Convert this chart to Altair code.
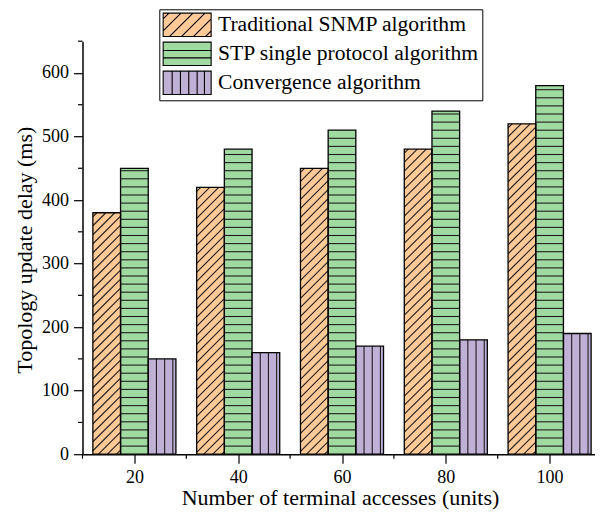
import altair as alt
import pandas as pd
import numpy as np

# ---- data ----
x_labels = [20, 40, 60, 80, 100]
series_names = ["Traditional SNMP algorithm", "STP single protocol algorithm", "Convergence algorithm"]
snmp_delay = [380, 420, 450, 480, 520]
stp_delay = [450, 480, 510, 540, 580]
conv_delay = [150, 160, 170, 180, 190]
fill_colors = ["#FFCA98", "#A0DAA0", "#BFB0D6"]
y_major = [0, 100, 200, 300, 400, 500, 600]
y_minor = [50, 150, 250, 350, 450, 550, 650]
x_minor = [10, 30, 50, 70, 90, 110]

# ---- layout / style ----
PX_X = 5.19            # pixels per x unit
W, H = 512, 413
X_DOM = [10, 10 + W / PX_X]
Y_DOM = [0, 650]
PX_Y = H / (Y_DOM[1] - Y_DOM[0])
GROUP = 16.0
BW = GROUP / 3
FONT = "Liberation Serif"
HATCH = "#1e1e1e"

values_by_series = [snmp_delay, stp_delay, conv_delay]

bars = []
segs = []
for si, (name, vals) in enumerate(zip(series_names, values_by_series)):
    for xv, v in zip(x_labels, vals):
        x0 = xv - GROUP / 2 + si * BW
        x1 = x0 + BW
        bars.append(dict(series=name, x0=x0, x1=x1, value=v, base=0))
        wpx = BW * PX_X
        hpx = v * PX_Y
        if si == 0:  # diagonal hatch (45 deg on screen)
            step = 9.0
            for c in np.arange(-hpx + 4.0, wpx, step):
                xs = max(0.0, c)
                xe = min(wpx, c + hpx)
                if xe - xs > 0.5:
                    segs.append(dict(x=x0 + xs / PX_X, x2=x0 + xe / PX_X,
                                     y=(xs - c) / PX_Y, y2=(xe - c) / PX_Y))
        elif si == 1:  # horizontal hatch
            step = 8.1
            for yp in np.arange(step, hpx - 2, step):
                segs.append(dict(x=x0, x2=x1, y=yp / PX_Y, y2=yp / PX_Y))
        else:  # vertical hatch
            step = 8.2
            for xp in np.arange(step, wpx - 2, step):
                segs.append(dict(x=x0 + xp / PX_X, x2=x0 + xp / PX_X, y=0, y2=v))

bars_df = pd.DataFrame(bars)
segs_df = pd.DataFrame(segs)

# ---- legend swatch paths: unit = swatch height / 2, x from -1 to XR ----
SW_W, SW_H = 48.0, 23.3
U = SW_H / 2
XR = SW_W / U - 1
rect_path = f"M-1,-1H{XR:.3f}V1H-1Z"
diag = ""
dstep = 12.0 / U
for c in np.arange(-2 + 0.5, XR + 1, dstep):
    xs = max(-1.0, c - 1)
    xe = min(XR, c + 1)
    if xe - xs > 0.05:
        diag += f"M{xs:.3f},{c - xs:.3f}L{xe:.3f},{c - xe:.3f}"
horiz = f"M-1,-0.28H{XR:.3f}M-1,0.35H{XR:.3f}"
vert = "".join(f"M{-1 + px / U:.3f},-1V1" for px in [9.0, 17.3, 25.6, 34.0, 41.3])
shape_paths = [rect_path + diag, rect_path + horiz, rect_path + vert]

xscale = alt.Scale(domain=X_DOM, nice=False, zero=False)
yscale = alt.Scale(domain=Y_DOM, nice=False, zero=True)

xaxis = alt.Axis(values=x_labels, format="d", title="Number of terminal accesses (units)",
                 domain=True, domainColor="black", domainWidth=1.5, tickSize=9,
                 labelPadding=5, titleBaseline="alphabetic", titleY=50.5, titleX=257.5)
yaxis = alt.Axis(values=y_major, format="d", title="Topology update delay (ms)",
                 domain=True, domainColor="black", domainWidth=1.5, tickSize=9,
                 labelPadding=5, titleBaseline="alphabetic", titleX=-51, titleY=208.5)

legend = alt.Legend(
    title=None, orient="none", legendX=76.8, legendY=-31.9,
    strokeColor="black", fillColor="white", padding=3,
    symbolSize=SW_H * SW_H, symbolStrokeColor="black", symbolStrokeWidth=1.1,
    labelFont=FONT, labelFontSize=21.6, labelColor="black", labelOffset=SW_W - SW_H + 6,
    labelLimit=400, rowPadding=0,
)
fill_scale = alt.Scale(domain=series_names, range=fill_colors)

bar_fill = alt.Chart(bars_df).mark_rect(strokeWidth=0).encode(
    x=alt.X("x0:Q", scale=xscale, axis=xaxis),
    x2="x1:Q",
    y=alt.Y("value:Q", scale=yscale, axis=yaxis),
    y2="base:Q",
    fill=alt.Fill("series:N", scale=fill_scale, legend=legend),
)

hatch = alt.Chart(segs_df).mark_rule(color=HATCH, strokeWidth=1.1).encode(
    x=alt.X("x:Q", scale=xscale, axis=xaxis), x2="x2:Q",
    y=alt.Y("y:Q", scale=yscale, axis=yaxis), y2="y2:Q",
)

bar_outline = alt.Chart(bars_df).mark_rect(fill=None, stroke="black", strokeWidth=1.3).encode(
    x=alt.X("x0:Q", scale=xscale, axis=xaxis), x2="x1:Q",
    y=alt.Y("value:Q", scale=yscale, axis=yaxis), y2="base:Q",
)

legend_layer = alt.Chart(bars_df).transform_filter("false").mark_point(
    filled=True, stroke="black", strokeWidth=1.1, opacity=1
).encode(
    x=alt.X("x0:Q", scale=xscale, axis=xaxis),
    y=alt.Y("value:Q", scale=yscale, axis=yaxis),
    fill=alt.Fill("series:N", scale=fill_scale, legend=legend),
    shape=alt.Shape("series:N", scale=alt.Scale(domain=series_names, range=shape_paths), legend=legend),
)

y_minor_df = pd.DataFrame({"v": y_minor})
x_minor_df = pd.DataFrame({"v": [v for v in x_minor if v <= X_DOM[1]]})

y_minor_ticks = alt.Chart(y_minor_df).mark_rule(color="black", strokeWidth=1.2).encode(
    y=alt.Y("v:Q", scale=yscale, axis=yaxis),
    x=alt.value(-4.5), x2=alt.value(0),
)
x_minor_ticks = alt.Chart(x_minor_df).mark_rule(color="black", strokeWidth=1.2).encode(
    x=alt.X("v:Q", scale=xscale, axis=xaxis),
    y=alt.value(H), y2=alt.value(H + 4.5),
)

chart = alt.layer(
    bar_fill, hatch, bar_outline, legend_layer, y_minor_ticks, x_minor_ticks
).properties(
    width=W, height=H,
    autosize=alt.AutoSizeParams(type="none"),
    padding={"left": 74.5, "top": 33.2, "right": 0, "bottom": 55.8},
).configure_view(stroke=None).configure_axis(
    domainColor="black", domainWidth=1.5, tickColor="black", tickWidth=1.2, tickSize=9,
    labelFont=FONT, labelFontSize=18, labelColor="black",
    titleFont=FONT, titleFontSize=22, titleFontWeight="normal", titleColor="black",
    grid=False,
)

chart.save("out.html", embed_options={"renderer": "svg", "actions": False})
